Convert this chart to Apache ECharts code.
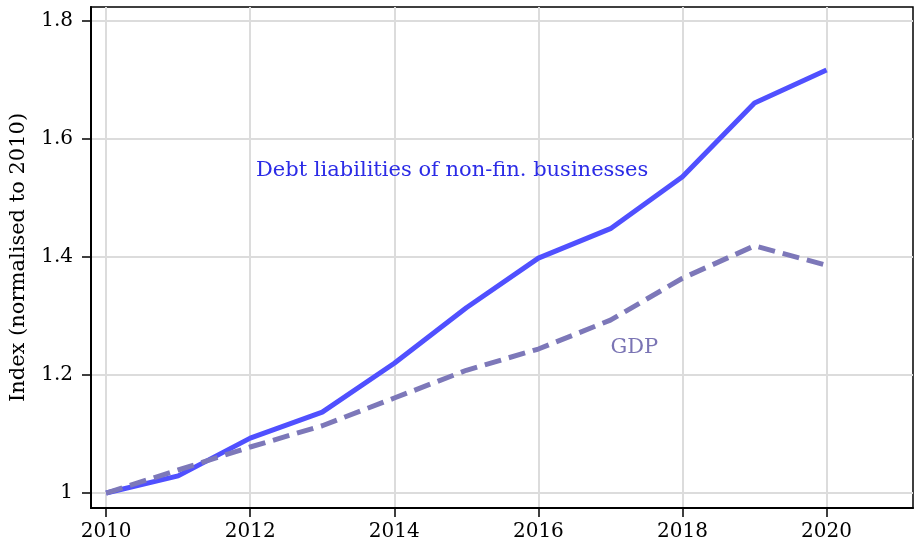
<!DOCTYPE html>
<html lang="en">
  <head>
    <meta charset="UTF-8" />
    <title>Debt vs GDP index</title>
    <script src="https://cdn.jsdelivr.net/npm/echarts@6/dist/echarts.min.js"></script>
    <style>
      html, body { margin: 0; padding: 0; background: #fff; }
      #chart { width: 915px; height: 545px; }
    </style>
  </head>
  <body>
    <div id="chart"></div>
    <script>
      var years = [2010, 2011, 2012, 2013, 2014, 2015, 2016, 2017, 2018, 2019, 2020];
      var debtArr = [1.0, 1.029, 1.093, 1.137, 1.22, 1.314, 1.398, 1.448, 1.536, 1.661, 1.717];
      var gdpArr = [1.0, 1.039, 1.078, 1.114, 1.161, 1.208, 1.244, 1.293, 1.364, 1.419, 1.386];
      var xTicks = [2010, 2012, 2014, 2016, 2018, 2020];
      var yTicks = [1, 1.2, 1.4, 1.6, 1.8];

      var font = 'DejaVu Serif';
      var mCharts = echarts.init(document.getElementById('chart'));

      function pairs(ys) {
        return years.map(function (y, i) { return [y, ys[i]]; });
      }

      var option = {
        animation: false,
        grid: {
          left: 91, right: 2, top: 7, bottom: 37,
          show: true, borderColor: '#000', borderWidth: 1.5
        },
        xAxis: {
          type: 'value',
          min: 2009.79,
          max: 2021.2,
          axisLine: { show: true, lineStyle: { color: '#000', width: 2 } },
          axisTick: { show: true, length: 9, customValues: xTicks, lineStyle: { color: '#000', width: 1.5 } },
          axisLabel: {
            customValues: xTicks, color: '#000', fontFamily: font, fontSize: 20, margin: 14,
            formatter: function (v) { return String(v); }
          },
          splitLine: { show: true, lineStyle: { color: '#dcdcdc', width: 2 } }
        },
        yAxis: {
          type: 'value',
          min: 0.9746,
          max: 1.8237,
          name: 'Index (normalised to 2010)',
          nameLocation: 'middle',
          nameGap: 62,
          nameTextStyle: { color: '#000', fontFamily: font, fontSize: 21 },
          axisLine: { show: true, lineStyle: { color: '#000', width: 2 } },
          axisTick: { show: true, length: 9, customValues: yTicks, lineStyle: { color: '#000', width: 1.5 } },
          axisLabel: { customValues: yTicks, color: '#000', fontFamily: font, fontSize: 20, margin: 18 },
          splitLine: { show: true, lineStyle: { color: '#dcdcdc', width: 2 } }
        },
        series: [
          {
            name: 'Debt liabilities of non-fin. businesses',
            type: 'line',
            data: pairs(debtArr),
            showSymbol: false,
            lineStyle: { color: '#5050ff', width: 5 },
            markPoint: {
              symbol: 'circle',
              symbolSize: 0,
              label: {
                show: true, position: 'right', distance: 0,
                formatter: 'Debt liabilities of non-fin. businesses',
                color: '#2b2be6', fontFamily: font, fontSize: 21
              },
              data: [{ coord: [2012.08, 1.547] }]
            }
          },
          {
            name: 'GDP',
            type: 'line',
            data: pairs(gdpArr),
            showSymbol: false,
            lineStyle: { color: '#7d78b9', width: 5, type: [17, 8] },
            markPoint: {
              symbol: 'circle',
              symbolSize: 0,
              label: {
                show: true, position: 'right', distance: 0,
                formatter: 'GDP',
                color: '#7a74b4', fontFamily: font, fontSize: 21
              },
              data: [{ coord: [2017.0, 1.246] }]
            }
          }
        ]
      };

      mCharts.setOption(option);
    </script>
  </body>
</html>
